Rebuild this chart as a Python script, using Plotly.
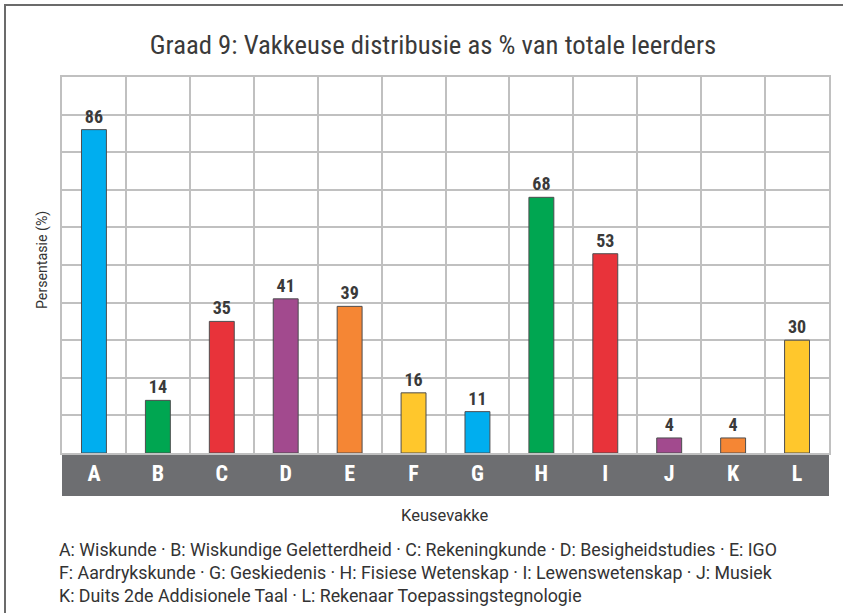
import plotly.graph_objects as go

categories = ["A", "B", "C", "D", "E", "F", "G", "H", "I", "J", "K", "L"]
values = [86, 14, 35, 41, 39, 16, 11, 68, 53, 4, 4, 30]
colors = ["#00aeef", "#00a651", "#e8333a", "#a24a8e", "#f58634", "#ffc72c",
          "#00aeef", "#00a651", "#e8333a", "#a24a8e", "#f58634", "#ffc72c"]
legend_lines = [
    "A: Wiskunde · B: Wiskundige Geletterdheid · C: Rekeningkunde · D: Besigheidstudies · E: IGO",
    "F: Aardrykskunde · G: Geskiedenis · H: Fisiese Wetenskap · I: Lewenswetenskap · J: Musiek",
    "K: Duits 2de Addisionele Taal · L: Rekenaar Toepassingstegnologie",
]

NARROW = "Liberation Sans Narrow, Roboto Condensed, Arial Narrow, Roboto, sans-serif"
BODY = "Roboto, Open Sans, sans-serif"

W, H = 843, 613
OFF = 0  # body margin removed via post_script
PL, PR, PT, PB = 62, 829, 77, 453
L, T = PL - OFF, PT - OFF
R = W - (PR - OFF)
B = H - (PB - OFF)
pw, ph = W - L - R, H - T - B


def px_x(x):  # page x -> paper
    return (x - OFF - L) / pw


def px_y(y):  # page y -> paper
    return ((H - B) - (y - OFF)) / ph


fig = go.Figure(go.Bar(
    x=categories, y=values,
    marker=dict(color=colors, line=dict(color="#4d4d4f", width=1)),
    width=0.39,
    text=[str(v) for v in values], textposition="outside",
    textfont=dict(family=NARROW, size=18, color="#3a3a3a", weight="bold"),
    cliponaxis=False,
))

fig.update_layout(
    width=W, height=H,
    margin=dict(l=L, r=R, t=T, b=B, autoexpand=False),
    paper_bgcolor="white", plot_bgcolor="white",
    showlegend=False,
    font=dict(family=BODY, color="#333333"),
    title=dict(text="Graad 9: Vakkeuse distribusie as % van totale leerders",
               x=((150 + 716) / 2 - OFF) / W, xanchor="center",
               y=1 - (45 - OFF) / H, yanchor="middle",
               xref="container", yref="container",
               font=dict(family=NARROW, size=26.7, color="#3a3a3a")),
    xaxis=dict(type="category", tickson="boundaries", showgrid=True,
               gridcolor="#c0c0c0", gridwidth=1.5, zeroline=False,
               showline=True, linecolor="#c0c0c0", linewidth=1.5, mirror=True,
               ticks="outside", ticklen=11, tickcolor="rgba(0,0,0,0)",
               tickfont=dict(family=NARROW, size=22, color="white", weight="bold"),
               range=[-0.5, len(categories) - 0.5], automargin=False),
    yaxis=dict(range=[0, 100], dtick=10, showticklabels=False, ticks="",
               showgrid=True, gridcolor="#c0c0c0", gridwidth=1.5,
               showline=True, linecolor="#c0c0c0", linewidth=1.5, mirror=True,
               zeroline=False, automargin=False),
    bargap=0.61,
)

# grey band under the axis
fig.add_shape(type="rect", xref="paper", yref="paper", layer="below",
              x0=0, x1=1, y0=px_y(496), y1=0,
              fillcolor="#6d6e71", line=dict(width=0))
# outer frame
fig.add_shape(type="rect", xref="paper", yref="paper", layer="below",
              x0=px_x(5), x1=1.2, y0=-0.6, y1=px_y(5),
              fillcolor="rgba(0,0,0,0)", line=dict(color="#6b6b6b", width=2))

# axis titles
fig.add_annotation(text="Keusevakke", xref="paper", yref="paper",
                   x=px_x(445), y=px_y(515), xanchor="center", yanchor="middle",
                   showarrow=False, font=dict(family=BODY, size=16.5, color="#333333"))
fig.add_annotation(text="Persentasie (%)", xref="paper", yref="paper",
                   x=px_x(42), y=px_y(260), xanchor="center", yanchor="middle",
                   textangle=-90, showarrow=False,
                   font=dict(family=BODY, size=14.2, color="#333333"))

fig.add_annotation(text="<br>".join(legend_lines), xref="paper", yref="paper",
                   x=px_x(57), y=px_y(537),
                   xanchor="left", yanchor="top", align="left", showarrow=False,
                   font=dict(family=BODY, size=17.8, color="#333333"))

fig.write_html("out.html", config={"displayModeBar": False},
               post_script="document.body.style.margin='0px';")
